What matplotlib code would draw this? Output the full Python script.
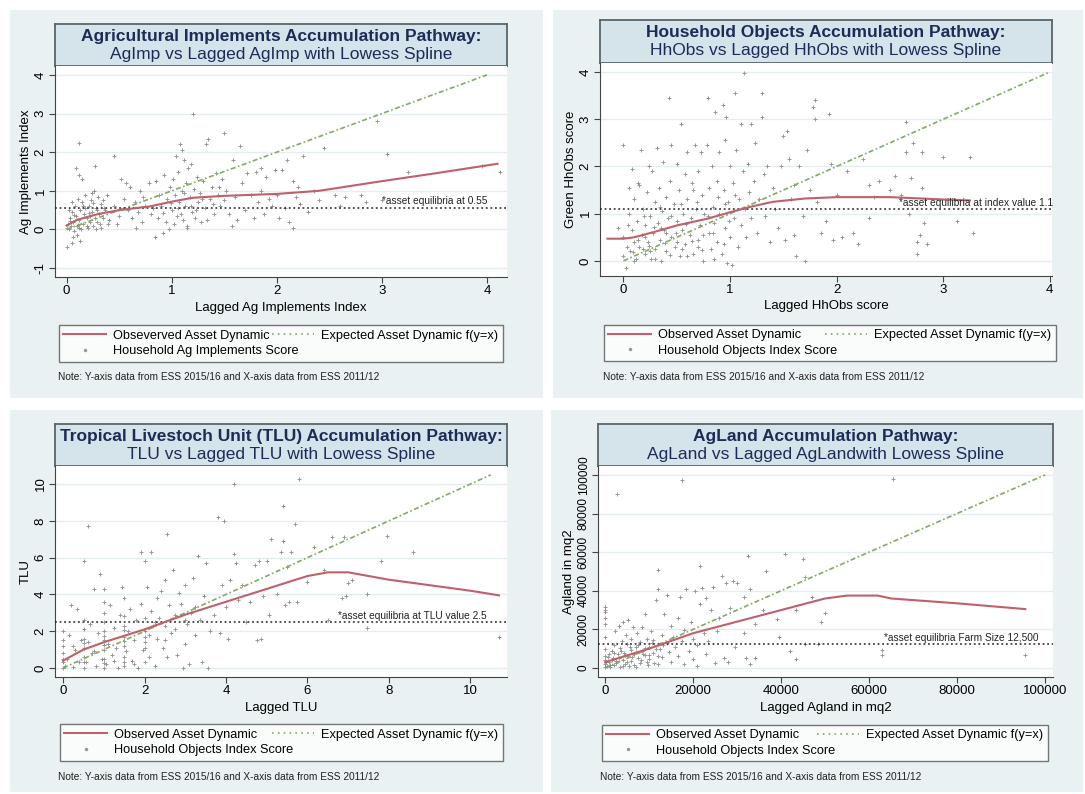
import numpy as np
import matplotlib
matplotlib.use("Agg")
import matplotlib.pyplot as plt
from matplotlib.patches import Rectangle
from matplotlib.lines import Line2D

plt.rcParams['font.family'] = ['Liberation Sans', 'DejaVu Sans']

# ---- data ----
# panel 1: agricultural implements (x = lagged index, y = index)
agimp_pts = [
    (0.00, 0.05), (0.01, 0.15), (0.02, 0.0), (0.03, 0.3), (0.04, 0.1), (0.05, 0.45), (0.06, 0.2),
    (0.07, -0.05), (0.08, 0.6), (0.09, 0.35), (0.10, 0.1), (0.11, 0.8), (0.12, 0.25), (0.13, 0.5),
    (0.14, 0.0), (0.15, 0.7), (0.16, 0.15), (0.17, 0.4), (0.18, 0.9), (0.19, 0.3), (0.20, 0.05),
    (0.21, 0.6), (0.22, 0.2), (0.23, 0.75), (0.24, 0.45), (0.25, 0.1), (0.26, 1.0), (0.27, 0.3),
    (0.28, 0.55), (0.29, 0.2), (0.30, 0.85), (0.31, 0.4), (0.32, 0.15), (0.33, 0.65), (0.35, 0.3),
    (0.37, 0.5), (0.38, 0.9), (0.40, 0.25), (0.09, 1.6), (0.12, 1.4), (0.15, 1.3), (0.27, 1.65),
    (0.05, 0.7), (0.18, 0.55), (0.22, 0.35), (0.12, 0.05), (0.28, 0.0), (0.02, 0.5), (0.35, 0.75),
    (0.06, -0.2), (0.13, -0.3), (0.10, -0.15), (0.00, -0.45), (0.05, -0.35), (0.12, 2.25), (0.24, 0.95),
    (0.45, 1.9), (0.45, 0.6), (0.50, 0.35), (0.52, 1.3), (0.55, 0.8), (0.58, 0.5), (0.60, 1.1),
    (0.62, 0.3), (0.65, 0.7), (0.68, 0.45), (0.70, 1.0), (0.72, 0.2), (0.75, 0.6), (0.78, 1.2),
    (0.80, 0.4), (0.48, 0.15), (0.57, 1.2), (0.66, 0.05), (0.73, 0.85),
    (0.82, 0.55), (0.84, -0.2), (0.85, 1.25), (0.87, 0.3), (0.88, 0.9), (0.90, 0.6), (0.92, -0.1),
    (0.93, 1.4), (0.95, 0.2), (0.96, 0.8), (0.98, 1.1), (1.00, 0.5), (1.01, 1.3), (1.02, 0.15),
    (1.03, 0.9), (1.05, 0.35), (1.06, 1.5), (1.07, 0.7), (1.08, 2.2), (1.09, 0.4), (1.10, 1.0),
    (1.11, 0.25), (1.12, 1.8), (1.13, 0.6), (1.14, 1.2), (1.15, 0.1), (1.16, 1.6), (1.17, 0.85),
    (1.18, 1.7), (1.19, 0.45), (1.20, 3.0), (1.21, 1.05), (1.22, 0.3), (1.24, 1.35), (1.25, 0.7),
    (1.27, 0.95), (1.28, 0.2), (1.30, 1.25), (1.32, 0.55), (1.33, 2.2), (1.35, 2.35), (1.36, 0.8),
    (1.38, 1.1), (1.40, 0.4), (1.42, 1.45), (1.44, 0.9), (1.46, 0.6), (1.48, 1.3), (1.50, 2.5),
    (1.50, 0.75), (1.04, 1.9), (1.10, 2.05), (0.97, 0.0), (1.15, 0.05),
    (1.52, 1.0), (1.55, 0.4), (1.58, 1.8), (1.60, 0.85), (1.62, 0.25), (1.65, 2.15), (1.67, 1.2),
    (1.70, 0.5), (1.72, 1.45), (1.75, 0.9), (1.78, 0.3), (1.80, 1.5), (1.82, 0.7), (1.85, 1.0),
    (1.88, 0.4), (1.90, 1.35), (1.93, 0.8), (1.95, 0.6), (1.98, 1.55), (2.00, 0.9), (2.02, 0.3),
    (2.05, 1.55), (2.08, 0.55), (2.10, 1.8), (2.12, 0.2), (2.15, 1.25), (2.15, 0.05), (2.18, 0.85),
    (2.20, 1.1), (2.22, 0.65), (2.25, 1.9), (2.30, 0.45), (2.35, 1.0), (2.40, 0.75), (2.45, 2.1),
    (1.57, 0.1), (1.85, 1.6),
    (2.55, 0.9), (2.65, 0.85), (2.80, 0.9), (2.85, 0.7), (2.95, 2.8), (3.00, 0.75), (3.05, 1.95),
    (3.25, 1.5), (3.95, 1.65), (4.12, 1.5), (2.60, 0.6),
    (0.03, 0.22), (0.07, 0.38), (0.11, 0.12), (0.16, 0.62), (0.19, 0.08), (0.21, 0.42), (0.25, 0.68),
    (0.29, 0.5), (0.33, 0.05), (0.36, 0.55), (0.39, 0.15), (0.92, 0.42), (0.99, 0.68), (1.06, 0.55),
    (1.12, 0.95), (1.18, 0.6), (1.23, 0.5), (1.29, 0.8), (1.34, 0.25), (1.39, 0.65), (1.45, 1.1),
]
agimp_lowess_x = [0.0, 0.1, 0.3, 0.5, 0.8, 1.0, 1.2, 1.5, 2.0, 2.4, 3.0, 3.5, 4.1]
agimp_lowess_y = [0.1, 0.25, 0.4, 0.5, 0.6, 0.72, 0.82, 0.87, 0.92, 1.0, 1.25, 1.45, 1.7]

# panel 2: household objects
hhobs_pts = [
    (-0.05, 0.7), (0.0, 2.45), (0.0, 0.1), (0.0, 0.5), (0.02, -0.15), (0.03, 0.3), (0.05, 1.0),
    (0.06, 0.2), (0.08, 0.65), (0.08, 1.95), (0.1, 0.4), (0.1, 1.3), (0.12, 0.05), (0.13, 0.85),
    (0.14, 1.65), (0.15, 0.3), (0.16, 2.35), (0.17, 0.55), (0.18, 1.1), (0.2, 0.15), (0.2, 0.75),
    (0.22, 1.45), (0.23, 0.4), (0.24, 2.0), (0.25, 0.95), (0.26, 0.05), (0.27, 1.9), (0.28, 0.6),
    (0.3, 1.25), (0.3, 0.25), (0.31, 2.4), (0.32, 0.8), (0.33, 1.55), (0.34, 0.45), (0.35, 0.0),
    (0.36, 1.05), (0.37, 2.1), (0.38, 0.65), (0.4, 1.35), (0.4, 0.2), (0.42, 0.9), (0.43, 3.45),
    (0.44, 1.7), (0.45, 0.5), (0.45, 2.45), (0.47, 1.2), (0.48, 0.3), (0.5, 0.85), (0.5, 2.05),
    (0.52, 1.5), (0.53, 0.1), (0.54, 2.9), (0.55, 0.65), (0.56, 1.0), (0.58, 1.85), (0.58, 0.35),
    (0.6, 1.3), (0.6, 2.3), (0.62, 0.55), (0.63, 0.9), (0.64, 1.65), (0.65, 0.15), (0.67, 2.45),
    (0.68, 1.1), (0.7, 0.45), (0.7, 1.9), (0.72, 0.75), (0.73, 2.3), (0.74, 1.4), (0.75, 0.0),
    (0.76, 1.0), (0.78, 2.45), (0.79, 3.45), (0.8, 0.6), (0.8, 1.55), (0.82, 0.25), (0.83, 2.0),
    (0.84, 1.15), (0.85, 0.8), (0.86, 3.15), (0.88, 1.7), (0.88, 0.4), (0.9, 2.3), (0.9, 1.0),
    (0.92, 0.15), (0.93, 3.3), (0.94, 1.5), (0.95, 0.7), (0.95, 2.55), (0.96, 3.05), (0.97, -0.05),
    (0.98, 1.25), (1.0, 0.5), (1.0, 2.0), (1.02, -0.08), (1.03, 1.65), (1.04, 0.9), (1.05, 3.55),
    (1.06, 2.35), (1.07, 0.3), (1.08, 1.3), (1.1, 2.9), (1.1, 0.75), (1.12, 1.9), (1.13, 3.98),
    (1.14, 1.1), (1.15, 0.5), (1.17, 2.05), (1.18, 1.45), (1.2, 2.9), (1.2, 0.9), (1.22, 1.7),
    (1.23, 2.5), (1.25, 0.6), (1.27, 1.3), (1.3, 3.55), (1.3, 3.05), (1.32, 1.85), (1.33, 0.95),
    (1.35, 2.0), (1.37, 0.4), (1.4, 1.55), (1.42, 1.1), (1.45, 0.7), (1.48, 2.0), (1.5, 2.65),
    (1.52, 0.45), (1.53, 2.75), (1.55, 2.15), (1.57, 1.3), (1.6, 0.55), (1.6, 1.6), (1.62, 0.1),
    (1.65, 2.0), (1.68, 0.95), (1.7, 0.0), (1.72, 2.35), (1.75, 1.5), (1.78, 3.25), (1.8, 3.4),
    (1.8, 3.0), (1.82, 1.25), (1.85, 0.6), (1.9, 0.85), (1.93, 3.1), (1.95, 2.05), (1.97, 0.45),
    (2.0, 1.4), (2.05, 0.5), (2.1, 1.9), (2.15, 0.6), (2.2, 0.35), (2.25, 2.15), (2.3, 1.6),
    (2.3, 0.9), (2.35, 1.35), (2.4, 1.7), (2.5, 1.5), (2.55, 1.8), (2.6, 1.4), (2.65, 2.95),
    (2.65, 2.3), (2.68, 1.0), (2.7, 1.75), (2.72, 2.5), (2.75, 0.4), (2.75, 0.15), (2.78, 0.55),
    (2.8, 2.3), (2.8, 1.55), (2.82, 0.8), (2.85, 0.35), (3.0, 2.2), (3.13, 0.85), (3.25, 2.2),
    (3.28, 0.6), (0.05, 1.55), (0.15, 1.6), (0.25, 0.2), (0.35, 0.7), (0.45, 0.95), (0.55, 0.25),
    (0.65, 1.5), (0.75, 0.55), (0.85, 0.05), (0.95, 1.2), (1.05, 1.4), (0.2, 0.5), (0.3, 0.05),
    (0.4, 0.6), (0.5, 0.4), (0.6, 0.1), (0.7, 0.3), (0.1, 0.0), (0.18, 0.25),
    (0.04, 0.75), (0.09, 0.18), (0.14, 0.45), (0.19, 0.95), (0.24, 0.32), (0.29, 0.72), (0.34, 1.15),
    (0.39, 0.38), (0.44, 0.12), (0.49, 0.6), (0.54, 1.2), (0.59, 0.78), (0.64, 0.42), (0.69, 1.25),
    (0.74, 0.22), (0.79, 0.95), (0.84, 0.58), (0.89, 1.35), (0.94, 0.35), (0.99, 0.85),
]
hhobs_lowess_x = [-0.15, 0.0, 0.1, 0.3, 0.5, 0.8, 1.0, 1.2, 1.4, 1.7, 2.0, 2.5, 3.0, 3.25]
hhobs_lowess_y = [0.47, 0.47, 0.5, 0.62, 0.75, 0.9, 1.03, 1.15, 1.25, 1.32, 1.35, 1.35, 1.3, 1.28]

# panel 3: tropical livestock units
tlu_pts = [
    (0, 0.0), (0, 0.3), (0, 0.8), (0, 1.2), (0, 1.5), (0, 2.0), (0.05, 0.1), (0.1, 0.5), (0.15, 1.8),
    (0.2, 3.4), (0.25, 0.05), (0.3, 1.0), (0.35, 3.2), (0.4, 0.3), (0.45, 1.5), (0.5, 0.0), (0.5, 0.6),
    (0.5, 1.1), (0.5, 1.6), (0.5, 2.1), (0.5, 2.6), (0.5, 5.8), (0.55, 0.3), (0.6, 7.7), (0.6, 1.4),
    (0.65, 2.4), (0.7, 0.8), (0.75, 4.3), (0.8, 0.1), (0.85, 1.9), (0.9, 5.1), (0.95, 0.5), (1.0, 0.0),
    (1.0, 0.5), (1.0, 1.0), (1.0, 1.5), (1.0, 2.0), (1.0, 2.5), (1.0, 3.0), (1.0, 3.6), (1.0, 4.3),
    (1.05, 0.2), (1.1, 1.3), (1.15, 3.4), (1.2, 0.7), (1.25, 2.2), (1.3, 1.1), (1.35, 0.0), (1.4, 2.9),
    (1.45, 4.4), (1.5, 0.1), (1.5, 0.6), (1.5, 1.2), (1.5, 1.7), (1.5, 2.3), (1.5, 2.8), (1.5, 3.8),
    (1.55, 0.9), (1.6, 2.0), (1.65, 3.2), (1.7, 0.4), (1.75, 1.5), (1.8, 2.6), (1.85, 0.0), (1.9, 6.3),
    (1.9, 3.5), (1.95, 1.0), (2.0, 0.3), (2.0, 1.4), (2.0, 2.0), (2.0, 2.7), (2.0, 5.8), (2.05, 4.4),
    (2.1, 0.6), (2.1, 1.8), (2.15, 6.3), (2.15, 3.1), (2.2, 2.3), (2.25, 0.1), (2.3, 1.6), (2.3, 3.8),
    (2.35, 2.7), (2.4, 4.2), (2.45, 1.1), (2.5, 2.3), (2.5, 4.8), (2.55, 7.3), (2.55, 0.6), (2.6, 3.4),
    (2.65, 1.9), (2.7, 5.3), (2.75, 2.9), (2.8, 0.7), (2.85, 4.1), (2.9, 3.5), (2.95, 0.0), (3.0, 1.3),
    (3.0, 4.5), (3.05, 2.4), (3.1, 0.2), (3.15, 3.0), (3.2, 4.9), (3.25, 1.8), (3.3, 6.1), (3.35, 2.6),
    (3.4, 0.3), (3.45, 3.9), (3.5, 5.7), (3.55, 0.0), (3.6, 2.0), (3.7, 2.9), (3.8, 8.2), (3.85, 1.9),
    (3.9, 4.5), (3.95, 8.0), (4.0, 3.3), (4.05, 1.6), (4.1, 4.8), (4.2, 10.0), (4.2, 6.2), (4.25, 5.7),
    (4.3, 3.7), (4.4, 4.5), (4.5, 2.5), (4.6, 3.6), (4.7, 5.6), (4.75, 1.5), (4.8, 5.8), (4.85, 1.6),
    (4.9, 3.9), (5.0, 5.8), (5.05, 2.9), (5.1, 7.0), (5.25, 4.0), (5.35, 6.3), (5.4, 6.9), (5.4, 8.8),
    (5.45, 3.4), (5.5, 5.5), (5.55, 3.6), (5.6, 6.3), (5.7, 7.8), (5.75, 3.6), (5.8, 10.3), (6.0, 4.7),
    (6.15, 6.6), (6.4, 5.3), (6.5, 2.6), (6.6, 7.1), (6.85, 3.8), (6.95, 3.9), (7.0, 4.6), (7.1, 4.8),
    (7.45, 4.0), (7.45, 2.2), (7.8, 5.8), (7.95, 7.2), (8.6, 6.3), (10.7, 1.7), (6.9, 7.1),
    (0.0, 0.5), (0.25, 1.2), (0.5, 0.3), (0.5, 1.35), (0.75, 0.9), (1.0, 0.25), (1.0, 1.25),
    (1.0, 1.75), (1.25, 0.4), (1.5, 0.35), (1.5, 1.45), (1.5, 2.05), (1.75, 0.2), (2.0, 1.1),
    (2.0, 1.7), (2.25, 2.5), (2.5, 1.5), (2.75, 2.1), (3.0, 2.6), (3.25, 3.3),
]
tlu_lowess_x = [0, 0.5, 1, 2, 3, 4, 5, 6, 6.5, 7, 8, 9, 10, 10.7]
tlu_lowess_y = [0.4, 1.0, 1.4, 2.1, 2.9, 3.6, 4.3, 5.0, 5.2, 5.2, 4.8, 4.5, 4.2, 3.95]

# panel 4: agricultural land (mq2)
agland_pts = [
    (0, 500), (0, 2000), (0, 4000), (0, 6000), (0, 10000), (0, 16000), (0, 23000), (0, 26000),
    (0, 29000), (0, 30000), (0, 31500), (500, 1000), (800, 7000), (1000, 3000), (1200, 500),
    (1500, 9000), (1800, 5000), (2000, 12000), (2000, 1500), (2200, 19000), (2500, 3500),
    (2800, 90000), (3000, 7500), (3200, 22000), (3500, 500), (3500, 10500), (3800, 14000),
    (4000, 4000), (4000, 24000), (4300, 8000), (4500, 2000), (4800, 17000), (5000, 12500),
    (5000, 6000), (5200, 25000), (5500, 1000), (5800, 9500), (6000, 15000), (6000, 3500),
    (6300, 21000), (6500, 7000), (7000, 11000), (7000, 500), (7300, 18000), (7500, 5000),
    (8000, 13500), (8000, 2500), (8300, 9000), (8500, 21000), (9000, 6500), (9000, 28000),
    (9500, 15000), (9800, 1500), (10000, 11000), (10000, 4500), (10500, 19000), (11000, 8000),
    (11000, 14500), (11500, 35000), (12000, 2000), (12000, 51000), (12000, 41000), (12500, 10000),
    (13000, 17000), (13000, 5500), (13500, 28000), (14000, 38000), (14000, 13000), (14500, 8500),
    (15000, 22000), (15000, 3000), (15500, 16000), (16000, 11000), (16500, 26000), (16500, 6000),
    (17000, 37000), (17500, 97500), (17500, 14000), (18000, 19500), (18000, 2000), (18500, 41000),
    (19000, 9000), (19500, 24000), (20000, 15000), (20000, 4500), (20500, 40000), (21000, 12000),
    (21000, 1000), (21500, 33000), (21500, 53000), (22000, 41500), (22500, 18000), (23000, 36000),
    (23000, 7000), (23500, 14000), (24000, 30000), (24500, 42000), (25000, 2500), (25500, 19000),
    (26000, 26000), (26500, 47500), (27000, 5000), (27500, 44000), (28000, 3000), (28500, 31000),
    (29000, 45000), (29500, 11000), (30000, 44000), (31500, 37000), (31500, 18000), (32000, 5000),
    (32500, 58000), (33000, 2000), (33000, 41000), (34000, 23000), (34000, 5000), (36000, 30000),
    (36500, 50000), (39000, 25500), (39500, 16000), (41000, 59000), (42000, 9000), (43500, 30000),
    (43500, 4500), (45000, 56500), (45500, 12500), (45500, 47000), (47000, 37000), (49000, 24000),
    (50000, 28500), (63000, 9500), (63000, 6500), (65500, 98000), (95500, 6500), (48500, 12500),
    (300, 3000), (700, 5500), (1100, 1800), (1600, 4200), (2100, 7800), (2600, 2500), (3100, 5200),
    (3600, 8800), (4100, 1200), (4600, 6500), (5100, 3200), (5600, 11000), (6100, 5800), (6600, 1800),
    (7100, 8200), (7600, 12000), (8100, 4200), (8600, 7200), (9100, 10200), (9600, 3000),
    (10100, 6800), (10600, 13200), (11100, 2800), (11600, 9800), (12100, 6200), (13100, 11800),
]
agland_lowess_x = [0, 5000, 10000, 15000, 20000, 30000, 40000, 50000, 55000, 62000, 65000, 80000, 95500]
agland_lowess_y = [3000, 6500, 10000, 14000, 18000, 24000, 30000, 36000, 37500, 37500, 36000, 33500, 30500]

W, H = 1085, 794
BG = '#e9f1f3'
TITLE_BG = '#d5e3ea'
NAVY = '#1d2b57'
RED = '#c0606a'
GREEN = '#82aa60'
NOTE = 'Note: Y-axis data from ESS 2015/16 and X-axis data from ESS 2011/12'

fig = plt.figure(figsize=(W / 100, H / 100), dpi=100)


def fbox(x0, y0, x1, y1):
    # pixel box -> figure fraction [left, bottom, width, height]
    return [x0 / W, 1 - y1 / H, (x1 - x0) / W, (y1 - y0) / H]


def draw_panel(p):
    # light panel background
    b = fbox(*p['bg'])
    fig.add_artist(Rectangle(b[:2], b[2], b[3], transform=fig.transFigure,
                             facecolor=BG, edgecolor='none', zorder=0))

    # title box
    tax = fig.add_axes(fbox(*p['title']))
    tax.set_facecolor(TITLE_BG)
    tax.set_xticks([])
    tax.set_yticks([])
    for s in tax.spines.values():
        s.set_color('#59646b')
        s.set_linewidth(1.3)
    tax.text(0.5, 0.70, p['title1'], ha='center', va='center', fontsize=12.5,
             fontweight='bold', color=NAVY, transform=tax.transAxes)
    tax.text(0.5, 0.28, p['title2'], ha='center', va='center', fontsize=12.5,
             color=NAVY, transform=tax.transAxes)

    # main plot
    ax = fig.add_axes(fbox(*p['plot']))
    ax.set_facecolor('white')
    xs = [a for a, b in p['pts']]
    ys = [b for a, b in p['pts']]
    for yt in p['yticks']:
        ax.axhline(yt, color='#e4edf0', lw=1.0, zorder=0)
    ax.scatter(xs, ys, marker='+', s=12, linewidths=0.7, color='#808080', alpha=0.8, zorder=2)
    ax.plot([0, p['exp_end']], [0, p['exp_end']], color=GREEN, lw=1.2,
            linestyle=(0, (3, 1.5, 1, 1.5)), zorder=3)
    ax.plot(p['lx'], p['ly'], color=RED, lw=1.5, zorder=4)
    ax.axhline(p['eq'], color='#222222', lw=1.1, linestyle=(0, (1.2, 1.8)), zorder=3)
    ax.text(p['eq_tx'], p['eq_ty'], p['eq_text'], ha='right', va='bottom', fontsize=7.3,
            color='#222222', zorder=5)

    ax.set_xlim(*p['xlim'])
    ax.set_ylim(*p['ylim'])
    ax.set_xticks(p['xticks'])
    ax.set_yticks(p['yticks'])
    ax.set_xticklabels([str(t) for t in p['xticks']], fontsize=9.5)
    ax.set_yticklabels([str(t) for t in p['yticks']], fontsize=p['ytick_fs'], rotation=90,
                       va='center')
    ax.tick_params(axis='both', length=4, width=0.8, color='#444444', pad=2)
    for side in ['top', 'right']:
        ax.spines[side].set_visible(False)
    for side in ['left', 'bottom']:
        ax.spines[side].set_color('#444444')
        ax.spines[side].set_linewidth(0.8)
    ax.set_xlabel(p['xlabel'], fontsize=9.5, labelpad=3)
    ax.set_ylabel(p['ylabel'], fontsize=9.5, labelpad=2)

    # legend below the plot
    handles = [
        Line2D([], [], color=RED, lw=1.5),
        Line2D([], [], marker='.', markersize=3, color='#999999', linestyle='none'),
        Line2D([], [], color=GREEN, lw=1.2, linestyle=(0, (1, 2.5))),
    ]
    labels = [p['obs_label'], p['pts_label'], 'Expected Asset Dynamic f(y=x)']
    leg = ax.legend(handles, labels, loc='center', bbox_to_anchor=fbox(*p['legend']),
                    bbox_transform=fig.transFigure, mode='expand', ncol=2, fontsize=9.2,
                    frameon=True, fancybox=False, handlelength=3.3, labelspacing=0.25,
                    borderaxespad=0, borderpad=0.35, columnspacing=1.0, handletextpad=0.6)
    leg.get_frame().set_edgecolor('#555555')
    leg.get_frame().set_linewidth(1.0)

    fig.text(p['note'][0] / W, 1 - p['note'][1] / H, NOTE, fontsize=7.3, color='#222222',
             va='center')


panels = [
    dict(bg=(10, 10, 543, 398), title=(55, 24, 507, 66), plot=(55, 66, 507, 277),
         legend=(59, 321, 503, 366), note=(58, 377),
         title1='Agricultural Implements Accumulation Pathway:',
         title2='AgImp vs Lagged AgImp with Lowess Spline',
         pts=agimp_pts, lx=agimp_lowess_x, ly=agimp_lowess_y, exp_end=4.0,
         eq=0.55, eq_tx=4.0, eq_ty=0.62, eq_text='*asset equilibria at 0.55',
         xlim=(-0.11, 4.19), ylim=(-1.23, 4.23), xticks=[0, 1, 2, 3, 4], yticks=[-1, 0, 1, 2, 3, 4],
         ytick_fs=9.5, xlabel='Lagged Ag Implements Index', ylabel='Ag Implements Index',
         obs_label='Obseverved Asset Dynamic', pts_label='Household Ag Implements Score'),
    dict(bg=(553, 10, 1083, 398), title=(600, 20, 1052, 63), plot=(600, 63, 1052, 276),
         legend=(604, 321, 1056, 365), note=(603, 377),
         title1='Household Objects Accumulation Pathway:',
         title2='HhObs vs Lagged HhObs with Lowess Spline',
         pts=hhobs_pts, lx=hhobs_lowess_x, ly=hhobs_lowess_y, exp_end=4.0,
         eq=1.1, eq_tx=4.03, eq_ty=1.12, eq_text='*asset equilibria at index value 1.1',
         xlim=(-0.22, 4.02), ylim=(-0.32, 4.19), xticks=[0, 1, 2, 3, 4], yticks=[0, 1, 2, 3, 4],
         ytick_fs=9.5, xlabel='Lagged HhObs score', ylabel='Green HhObs score',
         obs_label='Observed Asset Dynamic', pts_label='Household Objects Index Score'),
    dict(bg=(10, 410, 543, 792), title=(55, 424, 507, 466), plot=(55, 466, 507, 677),
         legend=(60, 721, 503, 764), note=(58, 777),
         title1='Tropical Livestoch Unit (TLU) Accumulation Pathway:',
         title2='TLU vs Lagged TLU with Lowess Spline',
         pts=tlu_pts, lx=tlu_lowess_x, ly=tlu_lowess_y, exp_end=10.5,
         eq=2.5, eq_tx=10.4, eq_ty=2.55, eq_text='*asset equilibria at TLU value 2.5',
         xlim=(-0.2, 10.9), ylim=(-0.49, 10.98), xticks=[0, 2, 4, 6, 8, 10],
         yticks=[0, 2, 4, 6, 8, 10],
         ytick_fs=9.5, xlabel='Lagged TLU', ylabel='TLU',
         obs_label='Observed Asset Dynamic', pts_label='Household Objects Index Score'),
    dict(bg=(551, 410, 1083, 792), title=(598, 424, 1053, 466), plot=(598, 466, 1053, 677),
         legend=(602, 721, 1048, 765), note=(600, 777),
         title1='AgLand Accumulation Pathway:',
         title2='AgLand vs Lagged AgLandwith Lowess Spline',
         pts=agland_pts, lx=agland_lowess_x, ly=agland_lowess_y, exp_end=100000,
         eq=12500, eq_tx=98500, eq_ty=12800, eq_text='*asset equilibria Farm Size 12,500',
         xlim=(-1600, 101800), ylim=(-4660, 104600),
         xticks=[0, 20000, 40000, 60000, 80000, 100000],
         yticks=[0, 20000, 40000, 60000, 80000, 100000],
         ytick_fs=8.5, xlabel='Lagged Agland in mq2', ylabel='Agland in mq2',
         obs_label='Observed Asset Dynamic', pts_label='Household Objects Index Score'),
]

for p in panels:
    draw_panel(p)

fig.savefig('out.png', dpi=100, facecolor='white')
